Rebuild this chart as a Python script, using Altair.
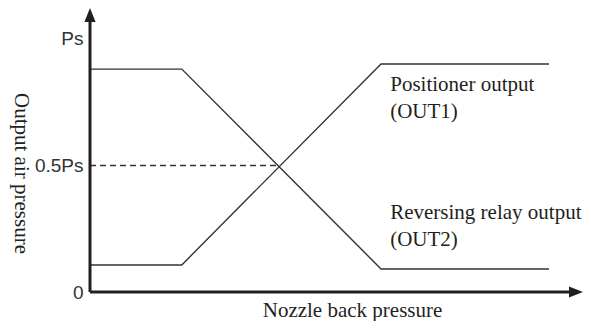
import altair as alt
import pandas as pd

# ---- data (x: nozzle back pressure, arbitrary units; y: fraction of Ps)
x_pts = [0.0, 2.0, 6.34, 10.0]
out1 = [0.107, 0.107, 0.901, 0.901]      # Positioner output (OUT1)
out2 = [0.881, 0.881, 0.091, 0.091]      # Reversing relay output (OUT2)
series_names = ["OUT1", "OUT2"]

cross_x = 4.12
half_ps = 0.5

x_max = 10.74
y_max = 1.1225

tick_values = [0, 0.5, 1]
tick_labels = ["0", "0.5Ps", "Ps"]

note_text = ["Positioner output", "(OUT1)", "Reversing relay output", "(OUT2)"]
note_x = [6.54, 6.54, 6.54, 6.54]
note_y = [0.818, 0.711, 0.312, 0.206]

INK = "#231f20"
SERIF = "Liberation Serif"
SANS = "Liberation Sans"

# ---- tables
lines_df = pd.DataFrame(
    {"x": x_pts * 2,
     "y": out1 + out2,
     "series": [series_names[0]] * len(x_pts) + [series_names[1]] * len(x_pts)}
)
dash_df = pd.DataFrame({"x": [0.0], "x2": [cross_x], "y": [half_ps]})
yaxis_df = pd.DataFrame({"x": [0.0], "y": [0.0], "y2": [y_max - 0.03]})
xaxis_df = pd.DataFrame({"x": [0.0], "x2": [x_max - 0.2], "y": [0.0]})
uparrow_df = pd.DataFrame({"x": [0.0], "y": [y_max]})
rarrow_df = pd.DataFrame({"x": [x_max], "y": [0.0]})
notes_df = pd.DataFrame({"x": note_x, "y": note_y, "text": note_text})

label_expr = " : ".join(
    f"datum.value == {v} ? '{l}'" for v, l in zip(tick_values[1:], tick_labels[1:])
) + f" : '{tick_labels[0]}'"

xs = alt.Scale(domain=[0, x_max], nice=False, zero=False)
ys = alt.Scale(domain=[0, y_max], nice=False, zero=False)

x_axis = alt.Axis(
    labels=False, ticks=False, domain=False, grid=False,
    title="Nozzle back pressure", titleFont=SERIF, titleFontSize=21,
    titleFontWeight="normal", titleColor=INK, titlePadding=7,
    titleX=262, titleAlign="center",
)
y_axis = alt.Axis(
    values=tick_values, labelExpr=label_expr, ticks=False, domain=False, grid=False,
    labelFont=SANS, labelFontSize=19, labelColor="#333333", labelPadding=7,
    title="Output air pressure", titleFont=SERIF, titleFontSize=21,
    titleFontWeight="normal", titleColor=INK, titleAngle=90,
    titleX=-70, titleY=165, titleAlign="center", titleBaseline="middle",
)

X = alt.X("x:Q", scale=xs, axis=x_axis)
Y = alt.Y("y:Q", scale=ys, axis=y_axis)

lines = alt.Chart(lines_df).mark_line(color="#333333", strokeWidth=1.4).encode(
    x=X, y=Y, detail="series:N"
)
dash = alt.Chart(dash_df).mark_rule(color="#333333", strokeWidth=1.3, strokeDash=[6, 4]).encode(
    x=X, x2="x2:Q", y=Y
)
yaxis_line = alt.Chart(yaxis_df).mark_rule(color=INK, strokeWidth=3).encode(
    x=X, y=Y, y2="y2:Q"
)
xaxis_line = alt.Chart(xaxis_df).mark_rule(color=INK, strokeWidth=3).encode(
    x=X, x2="x2:Q", y=Y
)
up_arrow = alt.Chart(uparrow_df).mark_point(
    shape="M0,0L0.4,1L-0.4,1Z", filled=True, color=INK, opacity=1, size=784, strokeWidth=0
).encode(x=X, y=Y)
right_arrow = alt.Chart(rarrow_df).mark_point(
    shape="M0,0L-1,-0.4L-1,0.4Z", filled=True, color=INK, opacity=1, size=784, strokeWidth=0
).encode(x=X, y=Y)
notes = alt.Chart(notes_df).mark_text(
    font=SERIF, fontSize=21, color=INK, align="left", baseline="middle"
).encode(x=X, y=Y, text="text:N")

chart = alt.layer(
    dash, lines, yaxis_line, xaxis_line, up_arrow, right_arrow, notes
).properties(
    width=493, height=284,
    autosize=alt.AutoSizeParams(type="none"),
    padding={"left": 82, "top": 0, "right": 0, "bottom": 29},
    background="white",
).configure_view(stroke=None)

chart.save("out.html", embed_options={"renderer": "svg", "actions": False})
